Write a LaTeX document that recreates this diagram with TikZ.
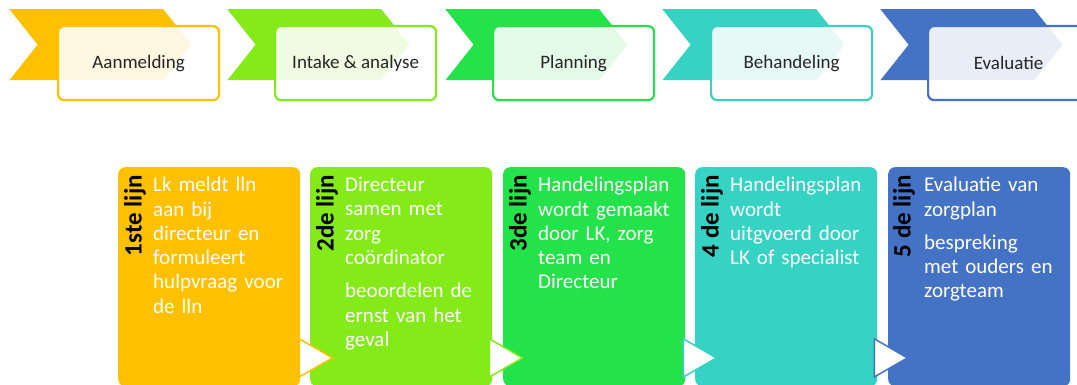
\documentclass[tikz,border=0pt]{standalone}
\usepackage{fontspec}
\setmainfont{Carlito}
\usepackage{tikz}
\usetikzlibrary{shapes.symbols, shapes.geometric, positioning, calc}

\definecolor{aanm}{RGB}{255,192,0}
\definecolor{intake}{RGB}{132,234,24}
\definecolor{plan}{RGB}{36,226,74}
\definecolor{behand}{RGB}{54,211,196}
\definecolor{evalc}{RGB}{68,114,196}

\begin{document}
\begin{tikzpicture}[x=1pt, y=-1pt,
    chevron/.style={signal, signal to=east, signal from=west, signal pointer angle=103, minimum width=182pt, minimum height=71pt, inner sep=0pt, anchor=north west},
    stage/.style={rectangle, draw, rounded corners=6pt, line width=2.2pt, fill=white, fill opacity=0.88, text opacity=1, minimum width=161pt, minimum height=74pt, anchor=north west, text=black!85, font=\fontsize{19}{22}\selectfont},
    lijnbox/.style={rectangle, rounded corners=7pt, minimum width=182pt, minimum height=219pt, anchor=north west},
    lijn/.style={rotate=90, anchor=east, inner sep=0pt, font=\bfseries\fontsize{25}{30}\selectfont},
    desc/.style={anchor=north west, text width=152pt, align=left, text=white, inner sep=0pt, font=\fontsize{21}{24.3}\selectfont},
    next/.style={isosceles triangle, isosceles triangle apex angle=60, fill=white, line width=1.5pt, minimum width=29pt, minimum height=33pt, inner sep=0pt}
]
\useasboundingbox (0,0) rectangle (1077,385);
\clip (0,0) rectangle (1077,385);

% Process chevrons
\node[chevron, fill=aanm] (chev1) at (9,9) {};
\node[chevron, fill=intake] (chev2) at (227,9) {};
\node[chevron, fill=plan] (chev3) at (445,9) {};
\node[chevron, fill=behand] (chev4) at (662,9) {};
\node[chevron, fill=evalc] (chev5) at (880,9) {};

% Stage boxes
\node[stage, draw=aanm] (aanmelding) at (57,25) {Aanmelding};
\node[stage, draw=intake] (intake_box) at (274,25) {Intake \& analyse};
\node[stage, draw=plan] (planning) at (492,25) {Planning};
\node[stage, draw=behand] (behandeling) at (710,25) {Behandeling};
\node[stage, draw=evalc] (evaluatie) at (927,25) {Evaluatie};

% Lijn boxes
\node[lijnbox, fill=aanm] (lijn1) at (118,167) {};
\node[lijnbox, fill=intake] (lijn2) at (310,167) {};
\node[lijnbox, fill=plan] (lijn3) at (503,167) {};
\node[lijnbox, fill=behand] (lijn4) at (695,167) {};
\node[lijnbox, fill=evalc] (lijn5) at (888,167) {};

\node[lijn] (lbl1) at ($(lijn1.north west)+(17,8)$) {1ste lijn};
\node[lijn] (lbl2) at ($(lijn2.north west)+(17,8)$) {2de lijn};
\node[lijn] (lbl3) at ($(lijn3.north west)+(17,8)$) {3de lijn};
\node[lijn] (lbl4) at ($(lijn4.north west)+(17,8)$) {4 de lijn};
\node[lijn] (lbl5) at ($(lijn5.north west)+(16,8)$) {5 de lijn};

\node[desc] (desc1) at ($(lijn1.north west)+(35,10)$) {Lk meldt lln\\aan bij\\directeur en\\formuleert\\hulpvraag voor\\de lln};
\node[desc] (desc2) at ($(lijn2.north west)+(35,10)$) {Directeur\\samen met\\zorg\\coördinator\\[9pt]beoordelen de\\ernst van het\\geval};
\node[desc] (desc3) at ($(lijn3.north west)+(35,10)$) {Handelingsplan\\wordt gemaakt\\door LK, zorg\\team en\\Directeur};
\node[desc] (desc4) at ($(lijn4.north west)+(35,10)$) {Handelingsplan\\wordt\\uitgvoerd door\\LK of specialist};
\node[desc] (desc5) at ($(lijn5.north west)+(36,10)$) {Evaluatie van\\zorgplan\\[9pt]bespreking\\met ouders en\\zorgteam};

% Arrows between lijnen
\node[next, draw=aanm] (next1) at ($(lijn1.south east)+(10,-28.5)$) {};
\node[next, draw=intake] (next2) at ($(lijn2.south east)+(8,-28.5)$) {};
\node[next, draw=behand] (next3) at ($(lijn3.south east)+(9,-28.5)$) {};
\node[next, draw=evalc] (next4) at ($(lijn4.south east)+(8,-28.5)$) {};
\end{tikzpicture}
\end{document}
